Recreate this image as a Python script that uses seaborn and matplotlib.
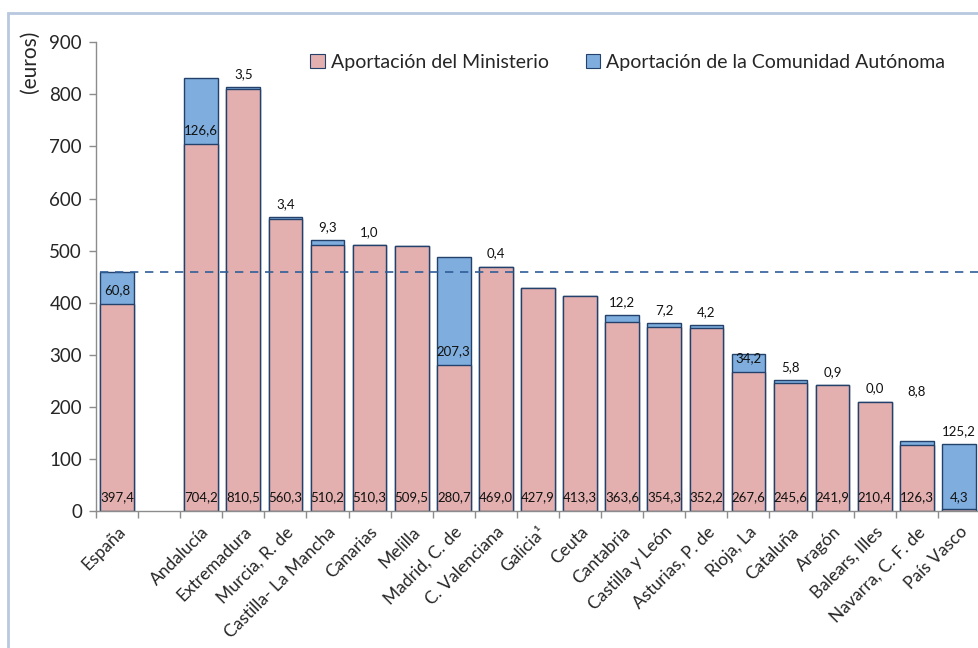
import numpy as np
import pandas as pd
import matplotlib

matplotlib.use("Agg")
import matplotlib.pyplot as plt
from matplotlib.patches import Patch, Rectangle
import seaborn as sns

# ---------------------------------------------------------------
# datos
# ---------------------------------------------------------------
regiones = [
    "España", " ", "Andalucía", "Extremadura", "Murcia, R. de",
    "Castilla- La Mancha", "Canarias", "Melilla", "Madrid, C. de",
    "C. Valenciana", "Galicia¹", "Ceuta", "Cantabria", "Castilla y León",
    "Asturias, P. de", "Rioja, La", "Cataluña", "Aragón", "Balears, Illes",
    "Navarra, C. F. de", "País Vasco",
]
ministerio = [
    397.4, np.nan, 704.2, 810.5, 560.3, 510.2, 510.3, 509.5, 280.7, 469.0,
    427.9, 413.3, 363.6, 354.3, 352.2, 267.6, 245.6, 241.9, 210.4, 126.3, 4.3,
]
comunidad = [
    60.8, np.nan, 126.6, 3.5, 3.4, 9.3, 1.0, np.nan, 207.3, 0.4,
    np.nan, np.nan, 12.2, 7.2, 4.2, 34.2, 5.8, 0.9, 0.0, 8.8, 125.2,
]
# etiquetas de la CA que van dentro del segmento azul
dentro = ["España", "Andalucía", "Madrid, C. de", "Rioja, La"]

COLORS = {
    "min": "#E3B0AF",
    "ca": "#7FAEDE",
    "edge": "#23416A",
    "dash": "#2F5E98",
    "axis": "#8C8C8C",
    "frame": "#B8C8DF",
}

df = pd.DataFrame({"region": regiones, "min": ministerio, "ca": comunidad})
df["total"] = df["min"] + df["ca"].fillna(0)
df = df[df["region"] != " "]

sns.set_theme(style="white")
plt.rcParams["font.family"] = ["Lato", "DejaVu Sans"]

fig = plt.figure(figsize=(9.79, 6.48), dpi=100)
ax = fig.add_axes([0.098, 0.211, 0.903, 0.724])

sns.barplot(data=df, x="region", y="total", order=regiones, color=COLORS["ca"],
            saturation=1, edgecolor=COLORS["edge"], linewidth=1.0, width=0.8,
            errorbar=None, ax=ax)
sns.barplot(data=df, x="region", y="min", order=regiones, color=COLORS["min"],
            saturation=1, edgecolor=COLORS["edge"], linewidth=1.0, width=0.8,
            errorbar=None, ax=ax)

ax.set_ylim(0, 900)
ax.set_xlim(-0.5, len(regiones) - 0.5)
ax.set_yticks(range(0, 901, 100))
ax.set_xlabel("")
ax.set_ylabel("")

# linea de referencia: total España
total_es = df.loc[df["region"] == "España", "total"].iloc[0]
ax.hlines(total_es, -0.4, len(regiones) - 0.5, colors=COLORS["dash"],
          linestyles=(0, (5, 4)), linewidth=1.2, zorder=5)

def fmt(v):
    return f"{v:.1f}".replace(".", ",")

for i, reg in enumerate(regiones):
    m = ministerio[i]
    c = comunidad[i]
    if np.isnan(m):
        continue
    ax.annotate(fmt(m), (i, 0), xytext=(0, 14), textcoords="offset pixels",
                ha="center", va="center", fontsize=9.5, color="#111111", zorder=6)
    if np.isnan(c):
        continue
    if reg in dentro:
        ax.annotate(fmt(c), (i, m), xytext=(0, 14), textcoords="offset pixels",
                    ha="center", va="center", fontsize=9.5, color="#111111", zorder=6)
    else:
        off = 50 if reg.startswith("Navarra") else 13
        ax.annotate(fmt(c), (i, m + c), xytext=(0, off), textcoords="offset pixels",
                    ha="center", va="center", fontsize=9.5, color="#111111", zorder=6)

# ejes estilo hoja de calculo
for s in ["top", "right"]:
    ax.spines[s].set_visible(False)
for s in ["left", "bottom"]:
    ax.spines[s].set_color(COLORS["axis"])
    ax.spines[s].set_linewidth(1.0)

ax.tick_params(axis="y", which="major", left=True, length=5, width=1,
               color=COLORS["axis"], labelsize=13.5, pad=5)
ax.tick_params(axis="x", which="major", bottom=False, length=0, pad=9)
ax.set_xticks(np.arange(-0.5, len(regiones), 1.0), minor=True)
ax.tick_params(axis="x", which="minor", bottom=True, length=5, width=1,
               color=COLORS["axis"])
ax.set_xticks(range(len(regiones)))
ax.set_xticklabels(regiones, rotation=45, ha="right", rotation_mode="anchor",
                   fontsize=12.5)

fig.text(0.031, 0.952, "(euros)", rotation=90, ha="center", va="top", fontsize=15)

handles = [
    Patch(facecolor=COLORS["min"], edgecolor=COLORS["edge"], linewidth=0.8,
          label="Aportación del Ministerio"),
    Patch(facecolor=COLORS["ca"], edgecolor=COLORS["edge"], linewidth=0.8,
          label="Aportación de la Comunidad Autónoma"),
]
fig.legend(handles=handles, loc="center left", bbox_to_anchor=(0.317, 0.904),
           ncol=2, frameon=False, fontsize=14, handlelength=0.75,
           handleheight=0.75, handletextpad=0.3, columnspacing=1.9,
           borderpad=0, borderaxespad=0)

# marco del area del grafico
fig.patches.append(Rectangle((8 / 979, -0.1), 1.2, 0.1 + (648 - 13) / 648,
                             transform=fig.transFigure, fill=False,
                             edgecolor=COLORS["frame"], linewidth=2))

fig.savefig("out.png", dpi=100)
